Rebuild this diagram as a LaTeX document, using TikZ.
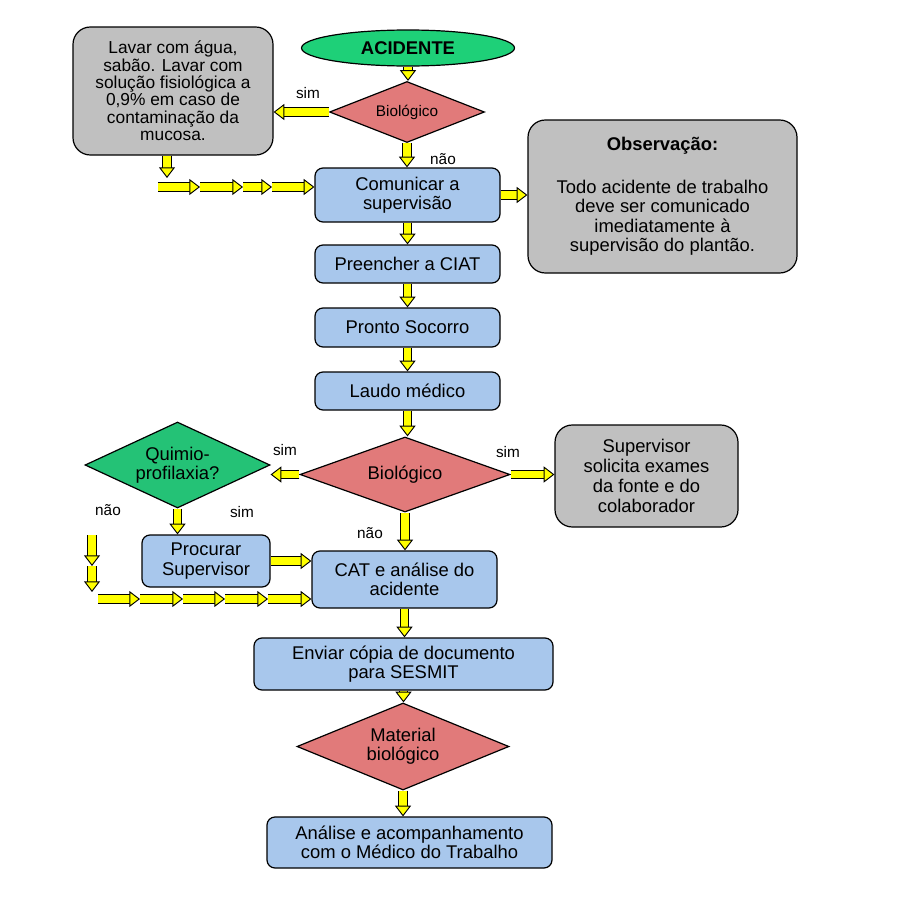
\documentclass[tikz,border=0pt]{standalone}
\usepackage{fontspec}
\setmainfont{Liberation Sans}
\usetikzlibrary{shapes.geometric,arrows.meta}

\definecolor{azul}{RGB}{168,199,236}
\definecolor{cinza}{RGB}{192,192,192}
\definecolor{salmao}{RGB}{225,122,122}
\definecolor{verde}{RGB}{30,208,120}
\definecolor{verdeq}{RGB}{36,194,118}
\definecolor{amarelo}{RGB}{255,255,0}
\newcommand{\pxu}{0.75pt}

\tikzset{
  tam/.style 2 args={minimum width=#1*\pxu, minimum height=#2*\pxu},
  caixa/.style={draw, line width=0.9pt, fill=azul, rounded corners=6pt, inner sep=0pt,
    align=center, font=\fontsize{13.8}{14.6}\selectfont},
  nota/.style={caixa, fill=cinza, rounded corners=13pt},
  losango/.style={diamond, draw, line width=0.9pt, fill=salmao, inner sep=0pt,
    align=center, font=\fontsize{13.8}{14.6}\selectfont},
  rotulo/.style={font=\fontsize{11.5}{12}\selectfont},
  seta/.style={draw=amarelo, line width=5.4pt,
    -{Triangle[length=8pt, width=12pt, line width=0.7pt, color=black, fill=amarelo]},
    preaction={draw=black, line width=6.8pt, -, shorten >=6.5pt}}
}

\begin{document}
\begin{tikzpicture}[x=\pxu, y=-\pxu]
  \useasboundingbox (0,0) rectangle (914,903);

  % Inicio
  \node[ellipse, draw, line width=0.9pt, fill=verde, inner sep=0pt, tam={213}{36},
    font=\bfseries\fontsize{13.8}{14.6}\selectfont] (acid) at (408,48) {ACIDENTE};
  \node[losango, tam={155}{61}, aspect=2.5, font=\fontsize{11.5}{12}\selectfont] (bio1) at (407,112) {Biológico};
  \node[nota, tam={200}{128}, font=\fontsize{13}{13}\selectfont] (lavar) at (173,91)
    {Lavar com água,\\ sabão. Lavar com\\ solução fisiológica a\\ 0,9\% em caso de\\ contaminação da\\ mucosa.};
  \node[caixa, tam={185}{54}] (comun) at (407.5,195) {Comunicar a\\ supervisão};
  \node[nota, tam={269}{153}] (obs) at (662.5,196.5)
    {\textbf{Observação:}\\[17pt] Todo acidente de trabalho\\ deve ser comunicado\\ imediatamente à\\ supervisão do plantão.};

  % Coluna central
  \node[caixa, tam={185}{38}] (preen) at (407.5,264) {Preencher a CIAT};
  \node[caixa, tam={185}{39}] (pronto) at (407.5,327.5) {Pronto Socorro};
  \node[caixa, tam={185}{38}] (laudo) at (407.5,391) {Laudo médico};
  \node[losango, tam={210}{75}, aspect=2.8] (bio2) at (405,474.5) {Biológico};
  \node[losango, fill=verdeq, tam={185}{86}, aspect=2.15] (quimio) at (177.5,465) {Quimio-\\ profilaxia?};
  \node[nota, tam={183}{102}, font=\fontsize{13.8}{15}\selectfont] (superv) at (646.5,476)
    {Supervisor\\ solicita exames\\ da fonte e do\\ colaborador};
  \node[caixa, tam={128}{52}] (procur) at (206,561) {Procurar\\ Supervisor};
  \node[caixa, tam={185}{57}] (cat) at (404.5,579.5) {CAT e análise do\\ acidente};
  \node[caixa, tam={299}{52}] (enviar) at (403.5,664) {Enviar cópia de documento\\ para SESMIT};
  \node[losango, tam={212}{87}, aspect=2.4] (mat) at (403,746.5) {Material\\ biológico};
  \node[caixa, tam={285}{51}] (anal) at (409.5,842.5) {Análise e acompanhamento\\ com o Médico do Trabalho};

  % Rotulos
  \node[rotulo] (s1) at (308,93) {sim};
  \node[rotulo] (n1) at (443,159) {não};
  \node[rotulo] (s2) at (285,450) {sim};
  \node[rotulo] (s3) at (508,452) {sim};
  \node[rotulo] (n2) at (370,533) {não};
  \node[rotulo] (n3) at (108,510) {não};
  \node[rotulo] (s4) at (242,512) {sim};

  % Pontos das setas encadeadas
  \coordinate (v0) at (167,178);
  \coordinate (h0) at (158,187);
  \coordinate (h1) at (200,187);
  \coordinate (h2) at (243,187);
  \coordinate (h3) at (272,187);
  \coordinate (e0) at (92,535);
  \coordinate (e1) at (92,566);
  \coordinate (e2) at (92,592);
  \coordinate (g0) at (98,599);
  \coordinate (g1) at (140,599);
  \coordinate (g2) at (183,599);
  \coordinate (g3) at (225,599);
  \coordinate (g4) at (268,599);

  % Setas
  \draw[seta] (acid.south) -- (acid.south |- bio1.north);
  \draw[seta] (bio1.west) -- (bio1.west -| lavar.east);
  \draw[seta] (bio1.south) -- (bio1.south |- comun.north);
  \draw[seta] (lavar.south -| v0) -- (v0);
  \draw[seta] (h0) -- (h1);
  \draw[seta] (h1) -- (h2);
  \draw[seta] (h2) -- (h3);
  \draw[seta] (h3) -- (h3 -| comun.west);
  \draw[seta] (comun.east) -- (comun.east -| obs.west);
  \draw[seta] (comun.south) -- (preen.north);
  \draw[seta] (preen.south) -- (pronto.north);
  \draw[seta] (pronto.south) -- (laudo.north);
  \draw[seta] (laudo.south) -- (laudo.south |- bio2.north);
  \draw[seta] (bio2.west) -- (bio2.west -| quimio.east);
  \draw[seta] (bio2.east) -- (bio2.east -| superv.west);
  \draw[seta] (bio2.south) -- (bio2.south |- cat.north);
  \draw[seta] (quimio.south) -- (quimio.south |- procur.north);
  \draw[seta] (procur.east) -- (procur.east -| cat.west);
  \draw[seta] (e0) -- (e1);
  \draw[seta] (e1) -- (e2);
  \draw[seta] (g0) -- (g1);
  \draw[seta] (g1) -- (g2);
  \draw[seta] (g2) -- (g3);
  \draw[seta] (g3) -- (g4);
  \draw[seta] (g4) -- (g4 -| cat.west);
  \draw[seta] (cat.south) -- (cat.south |- enviar.north);
  \draw[seta] (enviar.south) -- (enviar.south |- mat.north);
  \draw[seta] (mat.south) -- (mat.south |- anal.north);
\end{tikzpicture}
\end{document}
